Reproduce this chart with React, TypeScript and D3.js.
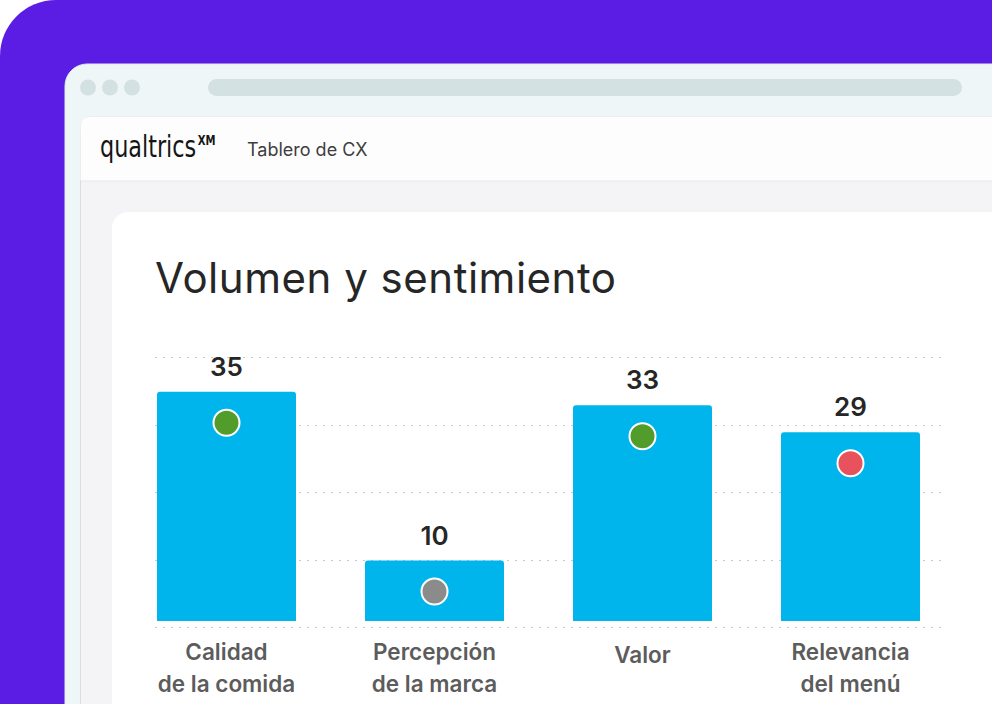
import React from 'react';
import * as d3 from 'd3';

// chart data
const categories = ['Calidad de la comida', 'Percepción de la marca', 'Valor', 'Relevancia del menú'];
const labelLines = [['Calidad', 'de la comida'], ['Percepción', 'de la marca'], ['Valor'], ['Relevancia', 'del menú']];
const volumes = [35, 10, 33, 29];
const sentiments = ['positivo', 'neutral', 'positivo', 'negativo'];
const gridTicks = [0, 10, 20, 30, 40];

const W = 992, H = 704;
const FONT = "Inter, 'Open Sans', sans-serif";

function topRoundedBar(x: number, y: number, w: number, h: number, r: number) {
    return `M${x},${y + h}V${y + r}Q${x},${y} ${x + r},${y}H${x + w - r}Q${x + w},${y} ${x + w},${y + r}V${y + h}Z`;
}

function App() {
    const x = d3.scaleBand<string>()
        .domain(categories)
        .range([157, 920])
        .paddingInner(69 / 208)
        .paddingOuter(0);

    const y = d3.scaleLinear()
        .domain([0, 40])
        .range([628, 358]);

    const color = d3.scaleOrdinal<string, string>()
        .domain(['positivo', 'neutral', 'negativo'])
        .range(['#529C2C', '#8B8B8B', '#E8525C']);

    const base = y(0) - 7;

    return (
        <svg width={W} height={H} style={{ position: 'absolute', left: 0, top: 0, display: 'block' }}>
            {/* purple backdrop */}
            <rect x={0} y={0} width={W + 80} height={H + 80} rx={56} fill="#5B1DE4" />

            {/* browser window */}
            <rect x={65} y={64} width={W} height={H} rx={22} fill="#EEF6F8" stroke="#E2ECEF" />
            {[88, 110, 132].map(cx => <circle key={cx} cx={cx} cy={87.5} r={8} fill="#D3E1E3" />)}
            <rect x={208} y={79} width={754} height={17} rx={8.5} fill="#D3E1E3" />

            {/* page */}
            <rect x={80.5} y={116.5} width={W} height={H} rx={12} fill="#F4F4F6" stroke="#DADDE0" />
            <path d={`M80.5,180.5V128.5Q80.5,116.5 92.5,116.5H${W}V180.5Z`} fill="#FDFDFD" />
            <line x1={81} x2={W} y1={181} y2={181} stroke="#E7E8EA" />

            <g transform="translate(100,157) scale(0.8,1)">
                <text x={0} y={0} fontFamily="'DejaVu Sans Condensed', 'DejaVu Sans', sans-serif"
                    fontStretch="condensed" fontSize={31} fill="#151515">
                    qualtrics
                    <tspan dx={2} dy={-12} fontSize={14} fontWeight={700}>XM</tspan>
                </text>
            </g>
            <text x={247} y={156} fontFamily={FONT} fontSize={18} fill="#3E3E3E">Tablero de CX</text>

            {/* card */}
            <rect x={112} y={212} width={W} height={H} rx={16} fill="#FFFFFF" />

            <text x={155} y={293} fontFamily={FONT} fontSize={42} fill="#262626"
                textLength={461} lengthAdjust="spacing">Volumen y sentimiento</text>

            {/* grid */}
            {gridTicks.map(t => (
                <line key={t} x1={155} x2={942} y1={Math.round(y(t)) - 0.5} y2={Math.round(y(t)) - 0.5}
                    stroke="#C9C9C9" strokeWidth={1} strokeDasharray="2 6" />
            ))}

            {/* bars */}
            {categories.map((c, i) => {
                const bx = x(c)!;
                const top = y(volumes[i]);
                const cx = bx + x.bandwidth() / 2;
                return (
                    <g key={c}>
                        <path d={topRoundedBar(bx, top, x.bandwidth(), base - top, 3)} fill="#00B5EB" />
                        <text x={cx} y={top - 16} textAnchor="middle" fontFamily={FONT} fontWeight={600}
                            fontSize={26} fill="#262626">{volumes[i]}</text>
                        <circle cx={cx} cy={top + 31} r={13} fill={color(sentiments[i])} stroke="#FFFFFF" strokeWidth={2} />
                        {labelLines[i].map((ln, j) => (
                            <text key={j} x={cx} y={labelLines[i].length === 1 ? 663 : 660 + j * 32}
                                textAnchor="middle" fontFamily={FONT} fontWeight={600} fontSize={22.5}
                                fill="#5C5C5C">{ln}</text>
                        ))}
                    </g>
                );
            })}
        </svg>
    );
}

export default App;
